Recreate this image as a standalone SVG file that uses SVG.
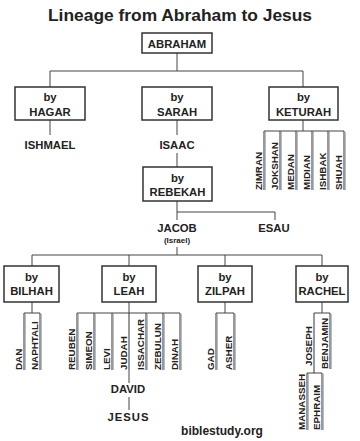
<svg xmlns="http://www.w3.org/2000/svg" width="360" height="441" viewBox="0 0 360 441">
<style>
text{font-family:"Liberation Sans",Arial,sans-serif;font-weight:bold;fill:#222}
.t{font-size:11.3px;text-anchor:middle}
.s{font-size:8px;text-anchor:middle}
.v{font-size:9.8px}
.box{fill:#fff;stroke:#333;stroke-width:1.5}
.c line,.c polyline{stroke:#444;stroke-width:1;fill:none}
.u line{stroke:#333;stroke-width:1}
.g line{stroke:#bbb;stroke-width:1}
</style>
<rect width="360" height="441" fill="#fff"/>
<text x="180" y="20.5" style="font-size:16.5px;text-anchor:middle" textLength="264" lengthAdjust="spacingAndGlyphs">Lineage from Abraham to Jesus</text>

<g id="connectors" class="c">
<line x1="177" y1="53" x2="177" y2="71"/>
<line x1="50" y1="71" x2="303" y2="71"/>
<line x1="50" y1="71" x2="50" y2="87"/>
<line x1="303" y1="71" x2="303" y2="87"/>
<line x1="50" y1="120" x2="50" y2="135"/>
<line x1="177" y1="120" x2="177" y2="135"/>
<line x1="177" y1="153" x2="177" y2="167"/>
<line x1="303" y1="120" x2="303" y2="131"/>
<line x1="264" y1="131" x2="344" y2="131"/>
<polyline points="177,201 177,220"/>
<polyline points="177,212 275,212 275,220"/>
<line x1="177" y1="247" x2="177" y2="255"/>
<line x1="32" y1="255" x2="322" y2="255"/>
<line x1="32" y1="255" x2="32" y2="266"/>
<line x1="129" y1="255" x2="129" y2="266"/>
<line x1="225" y1="255" x2="225" y2="266"/>
<line x1="322" y1="255" x2="322" y2="266"/>
<line x1="32" y1="302" x2="32" y2="313"/>
<line x1="24" y1="313" x2="40" y2="313"/>
<line x1="129" y1="302" x2="129" y2="313"/>
<line x1="77" y1="313" x2="180" y2="313"/>
<line x1="225" y1="302" x2="225" y2="313"/>
<line x1="216" y1="313" x2="234" y2="313"/>
<line x1="322" y1="302" x2="322" y2="313"/>
<line x1="314" y1="313" x2="330" y2="313"/>
<line x1="307" y1="373" x2="322" y2="373"/>
<line x1="129" y1="370" x2="129" y2="383"/>
<line x1="129" y1="397" x2="129" y2="410"/>
</g>

<g class="g">
<line x1="265.5" y1="132" x2="265.5" y2="190"/>
<line x1="281.5" y1="132" x2="281.5" y2="190"/>
<line x1="297.5" y1="132" x2="297.5" y2="190"/>
<line x1="313.5" y1="132" x2="313.5" y2="190"/>
<line x1="329.5" y1="132" x2="329.5" y2="190"/>
<line x1="345.5" y1="132" x2="345.5" y2="190"/>
<line x1="25.5" y1="314" x2="25.5" y2="370"/>
<line x1="41.5" y1="314" x2="41.5" y2="370"/>
<line x1="78.5" y1="314" x2="78.5" y2="370"/>
<line x1="95.5" y1="314" x2="95.5" y2="370"/>
<line x1="113.5" y1="314" x2="113.5" y2="370"/>
<line x1="147.5" y1="314" x2="147.5" y2="370"/>
<line x1="164.5" y1="314" x2="164.5" y2="370"/>
<line x1="181.5" y1="314" x2="181.5" y2="370"/>
<line x1="217.5" y1="314" x2="217.5" y2="370"/>
<line x1="235.5" y1="314" x2="235.5" y2="370"/>
<line x1="331.5" y1="314" x2="331.5" y2="369"/>
<line x1="308.5" y1="374" x2="308.5" y2="430"/>
<line x1="323.5" y1="374" x2="323.5" y2="430"/>
</g>
<g class="u">
<line x1="264" y1="131" x2="264" y2="190"/>
<line x1="280" y1="131" x2="280" y2="190"/>
<line x1="296" y1="131" x2="296" y2="190"/>
<line x1="312" y1="131" x2="312" y2="190"/>
<line x1="328" y1="131" x2="328" y2="190"/>
<line x1="344" y1="131" x2="344" y2="190"/>
<line x1="24" y1="313" x2="24" y2="370"/>
<line x1="40" y1="313" x2="40" y2="370"/>
<line x1="77" y1="313" x2="77" y2="370"/>
<line x1="94" y1="313" x2="94" y2="370"/>
<line x1="112" y1="313" x2="112" y2="370"/>
<line x1="129" y1="313" x2="129" y2="370"/>
<line x1="146" y1="313" x2="146" y2="370"/>
<line x1="163" y1="313" x2="163" y2="370"/>
<line x1="180" y1="313" x2="180" y2="370"/>
<line x1="216" y1="313" x2="216" y2="370"/>
<line x1="234" y1="313" x2="234" y2="370"/>
<line x1="314" y1="313" x2="314" y2="373"/>
<line x1="330" y1="313" x2="330" y2="369"/>
<line x1="307" y1="373" x2="307" y2="430"/>
<line x1="322" y1="373" x2="322" y2="430"/>
</g>

<g id="abraham"><rect class="box" x="142" y="33" width="70" height="20"/><text class="t" x="177" y="47.5">ABRAHAM</text></g>
<g id="hagar"><rect class="box" x="15" y="87" width="70" height="33"/><text class="t" x="50" y="101">by</text><text class="t" x="50" y="116">HAGAR</text></g>
<g id="sarah"><rect class="box" x="142" y="87" width="70" height="33"/><text class="t" x="177" y="101">by</text><text class="t" x="177" y="116">SARAH</text></g>
<g id="keturah"><rect class="box" x="269" y="87" width="69" height="33"/><text class="t" x="303.5" y="101">by</text><text class="t" x="303.5" y="116">KETURAH</text></g>
<g id="ishmael"><text class="t" x="50" y="149">ISHMAEL</text></g>
<g id="isaac"><text class="t" x="177" y="149">ISAAC</text></g>
<g id="keturah-sons">
<text class="v" transform="translate(262,190) rotate(-90)">ZIMRAN</text>
<text class="v" transform="translate(278,190) rotate(-90)">JOKSHAN</text>
<text class="v" transform="translate(294,190) rotate(-90)">MEDAN</text>
<text class="v" transform="translate(310,190) rotate(-90)">MIDIAN</text>
<text class="v" transform="translate(326,190) rotate(-90)">ISHBAK</text>
<text class="v" transform="translate(342,190) rotate(-90)">SHUAH</text>
</g>
<g id="rebekah"><rect class="box" x="143" y="167" width="69" height="34"/><text class="t" x="177.5" y="182">by</text><text class="t" x="177.5" y="196">REBEKAH</text></g>
<g id="jacob"><text class="t" x="177" y="232">JACOB</text><text class="s" x="177" y="243">(Israel)</text></g>
<g id="esau"><text class="t" x="274" y="232">ESAU</text></g>
<g id="bilhah"><rect class="box" x="4" y="266" width="55" height="36"/><text class="t" x="31.5" y="281">by</text><text class="t" x="31.5" y="295">BILHAH</text></g>
<g id="leah"><rect class="box" x="102" y="266" width="54" height="36"/><text class="t" x="129" y="281">by</text><text class="t" x="129" y="295">LEAH</text></g>
<g id="zilpah"><rect class="box" x="198" y="266" width="54" height="36"/><text class="t" x="225" y="281">by</text><text class="t" x="225" y="295">ZILPAH</text></g>
<g id="rachel"><rect class="box" x="296" y="266" width="52" height="36"/><text class="t" x="322" y="281">by</text><text class="t" x="322" y="295">RACHEL</text></g>
<g id="bilhah-sons">
<text class="v" transform="translate(22,370) rotate(-90)">DAN</text>
<text class="v" transform="translate(38,370) rotate(-90)">NAPHTALI</text>
</g>
<g id="leah-sons">
<text class="v" transform="translate(75,370) rotate(-90)">REUBEN</text>
<text class="v" transform="translate(92,370) rotate(-90)">SIMEON</text>
<text class="v" transform="translate(110,370) rotate(-90)">LEVI</text>
<text class="v" transform="translate(127,370) rotate(-90)">JUDAH</text>
<text class="v" transform="translate(144,370) rotate(-90)">ISSACHAR</text>
<text class="v" transform="translate(161,370) rotate(-90)">ZEBULUN</text>
<text class="v" transform="translate(178,370) rotate(-90)">DINAH</text>
</g>
<g id="zilpah-sons">
<text class="v" transform="translate(214,370) rotate(-90)">GAD</text>
<text class="v" transform="translate(232,370) rotate(-90)">ASHER</text>
</g>
<g id="rachel-sons">
<text class="v" transform="translate(312,366) rotate(-90)">JOSEPH</text>
<text class="v" transform="translate(328,369) rotate(-90)">BENJAMIN</text>
</g>
<g id="joseph-sons">
<text class="v" transform="translate(305,430) rotate(-90)">MANASSEH</text>
<text class="v" transform="translate(320,430) rotate(-90)">EPHRAIM</text>
</g>
<g id="david"><text class="t" x="128" y="393">DAVID</text></g>
<g id="jesus"><text class="t" x="128.5" y="421" style="letter-spacing:1px">JESUS</text></g>
<text x="222" y="435" style="font-size:12px;text-anchor:middle">biblestudy.org</text>
</svg>
